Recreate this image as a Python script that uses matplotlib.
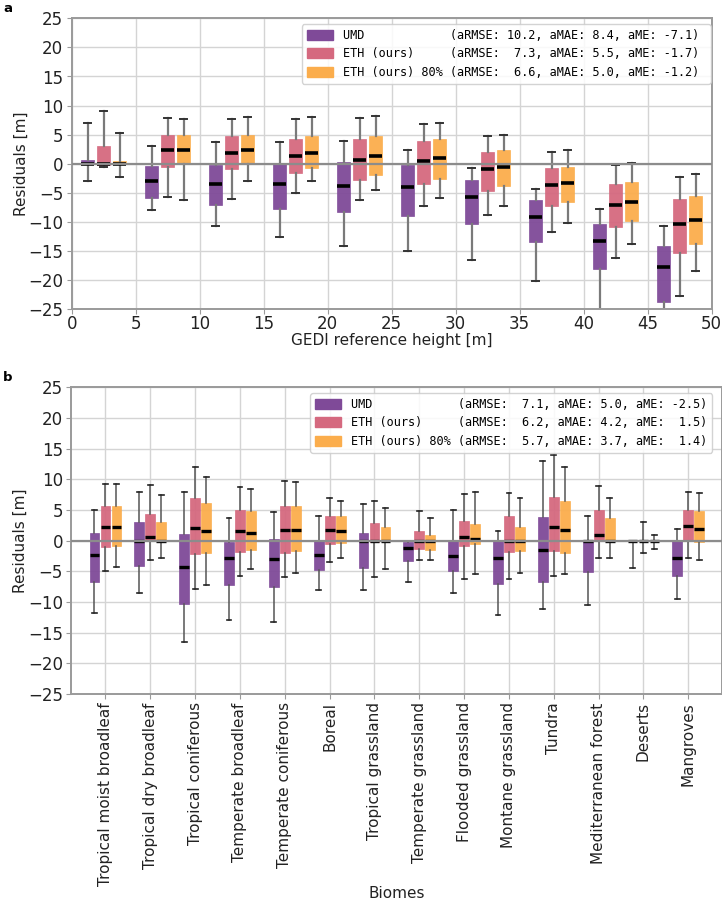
import numpy as np
import matplotlib
matplotlib.use("Agg")
import matplotlib.pyplot as plt
from matplotlib.patches import Patch

# ---------------- data ----------------
models = ["UMD", "ETH (ours)", "ETH (ours) 80%"]
colors = ["#7f4a98", "#d5697f", "#fbad4c"]

# panel a: GEDI reference height bins (bin start, width 5 m)
height_bins = [0, 5, 10, 15, 20, 25, 30, 35, 40, 45]

umd_a_whishi = [7.0, 3.0, 3.7, 3.8, 3.9, 2.4, -0.7, -4.3, -7.7, -10.7]
umd_a_q3 = [0.57, -0.4, -0.2, 0.2, 0.3, -0.2, -2.7, -6.3, -10.3, -14.1]
umd_a_med = [0.0, -2.9, -3.4, -3.4, -3.9, -4.0, -5.7, -9.1, -13.3, -17.8]
umd_a_q1 = [0.0, -5.8, -7.0, -7.8, -8.3, -9.0, -10.3, -13.5, -18.1, -23.8]
umd_a_whislo = [-3.0, -7.9, -10.7, -12.6, -14.1, -15.0, -16.6, -20.2, -26.0, -27.0]

eth_a_whishi = [9.0, 7.9, 7.7, 7.7, 7.8, 6.9, 4.7, 2.1, -0.2, -2.2]
eth_a_q3 = [3.0, 5.0, 4.7, 4.3, 4.2, 3.9, 2.1, -0.7, -3.5, -6.1]
eth_a_med = [0.0, 2.3, 1.9, 1.4, 0.7, 0.5, -0.9, -3.6, -7.0, -10.4]
eth_a_q1 = [-0.2, -0.5, -0.9, -1.6, -2.7, -3.4, -4.6, -7.3, -10.9, -15.4]
eth_a_whislo = [-0.5, -5.7, -6.1, -5.0, -6.2, -7.3, -8.8, -11.8, -16.1, -22.8]

eth80_a_whishi = [5.3, 7.7, 8.1, 8.1, 8.2, 7.0, 4.9, 2.3, 0.1, -1.7]
eth80_a_q3 = [0.4, 4.9, 5.0, 4.8, 4.7, 4.3, 2.3, -0.5, -3.2, -5.6]
eth80_a_med = [0.0, 2.4, 2.3, 1.9, 1.3, 1.0, -0.5, -3.3, -6.5, -9.6]
eth80_a_q1 = [-0.1, 0.0, 0.0, -0.7, -1.9, -2.6, -3.9, -6.5, -9.8, -13.7]
eth80_a_whislo = [-2.2, -6.3, -2.9, -3.0, -4.5, -5.8, -7.3, -10.1, -13.7, -18.5]

metrics_a_rmse = [10.2, 7.3, 6.6]
metrics_a_mae = [8.4, 5.5, 5.0]
metrics_a_me = [-7.1, -1.7, -1.2]

# panel b: biomes
biomes = ["Tropical moist broadleaf", "Tropical dry broadleaf", "Tropical coniferous",
          "Temperate broadleaf", "Temperate coniferous", "Boreal", "Tropical grassland",
          "Temperate grassland", "Flooded grassland", "Montane grassland", "Tundra",
          "Mediterranean forest", "Deserts", "Mangroves"]

umd_b_whishi = [5.05, 8.0, 8.0, 3.7, 4.7, 4.1, 6.0, 0.0, 5.05, 1.6, 13.0, 4.0, 0.0, 1.85]
umd_b_q3 = [1.25, 3.0, 1.15, -0.15, 0.3, 0.0, 1.2, -0.15, -0.1, -0.1, 3.9, 0.0, 0.0, 0.0]
umd_b_med = [-2.4, 0.0, -4.3, -2.9, -3.0, -2.4, 0.0, -1.2, -2.55, -2.8, -1.6, 0.0, 0.0, -2.8]
umd_b_q1 = [-6.7, -4.2, -10.4, -7.3, -7.5, -4.8, -4.5, -3.3, -5.0, -7.1, -6.7, -5.1, 0.0, -5.8]
umd_b_whislo = [-11.8, -8.6, -16.5, -12.9, -13.2, -8.1, -8.0, -6.8, -8.5, -12.2, -11.1, -10.5, -4.4, -9.5]

eth_b_whishi = [9.2, 9.0, 12.0, 8.8, 9.7, 7.0, 6.4, 4.9, 7.55, 7.7, 14.0, 8.9, 3.0, 8.0]
eth_b_q3 = [5.65, 4.4, 7.0, 5.0, 5.7, 4.1, 2.8, 1.6, 3.15, 4.0, 7.1, 4.95, 0.0, 5.0]
eth_b_med = [2.2, 0.65, 2.05, 1.5, 1.8, 1.75, 0.0, 0.0, 0.65, 0.0, 2.3, 1.0, 0.0, 2.35]
eth_b_q1 = [-1.0, 0.0, -2.1, -1.8, -2.0, -0.55, -0.3, -1.3, -0.9, -1.9, -1.7, 0.0, 0.0, 0.0]
eth_b_whislo = [-4.9, -3.2, -7.9, -5.8, -6.0, -3.4, -5.9, -3.2, -6.2, -6.3, -5.8, -2.9, -2.0, -2.9]

eth80_b_whishi = [9.2, 7.4, 10.3, 8.4, 9.5, 6.5, 5.4, 3.75, 8.0, 6.9, 12.0, 7.0, 1.0, 7.8]
eth80_b_q3 = [5.65, 3.0, 6.2, 4.8, 5.6, 4.0, 2.2, 1.0, 2.65, 2.2, 6.4, 3.75, 0.0, 4.85]
eth80_b_med = [2.2, 0.0, 1.6, 1.3, 1.75, 1.6, 0.0, 0.0, 0.2, 0.0, 1.75, 0.0, 0.0, 1.95]
eth80_b_q1 = [-0.8, 0.0, -2.0, -1.5, -1.7, -0.45, 0.0, -1.5, -0.55, -1.7, -2.0, 0.0, 0.0, -0.3]
eth80_b_whislo = [-4.3, -2.9, -7.2, -4.6, -5.2, -2.9, -4.7, -3.1, -5.5, -5.3, -5.5, -2.9, -1.35, -3.1]

metrics_b_rmse = [7.1, 6.2, 5.7]
metrics_b_mae = [5.0, 4.2, 3.7]
metrics_b_me = [-2.5, 1.5, 1.4]

yticks = [-25, -20, -15, -10, -5, 0, 5, 10, 15, 20, 25]
xticks_a = [0, 5, 10, 15, 20, 25, 30, 35, 40, 45, 50]

# ---------------- helpers ----------------
def make_stats(lo, q1, med, q3, hi):
    return [dict(whislo=a, q1=b, med=c, q3=d, whishi=e, fliers=[])
            for a, b, c, d, e in zip(lo, q1, med, q3, hi)]


def draw(ax, stats, positions, width, color, whis_color, whis_lw, cap_color, cap_lw, med_lw):
    ax.bxp(stats, positions=positions, widths=width, patch_artist=True,
           showfliers=False, manage_ticks=False,
           boxprops=dict(facecolor=color, edgecolor=color, linewidth=0.5, alpha=0.95),
           whiskerprops=dict(color=whis_color, linewidth=whis_lw),
           capprops=dict(color=cap_color, linewidth=cap_lw),
           medianprops=dict(color="black", linewidth=med_lw, solid_capstyle="butt"))


def legend_labels(rmse, mae, me, trail=""):
    labs = []
    for m, r, a, e in zip(models, rmse, mae, me):
        labs.append(f"{m:<14s} (aRMSE: {r:4.1f}, aMAE: {a:3.1f}, aME: {e:4.1f})" + trail)
    return labs


def style_axes(ax, pad):
    ax.set_ylim(-25, 25)
    ax.set_yticks(yticks)
    ax.grid(True, color="#d4d4d4", linewidth=1.0)
    ax.set_axisbelow(True)
    for s in ax.spines.values():
        s.set_color("#9a9a9a")
        s.set_linewidth(1.4)
    ax.tick_params(colors="#9a9a9a", labelcolor="#222222", labelsize=12, length=3.5, pad=2.5)
    ax.tick_params(axis="x", pad=pad)
    ax.axhline(0, color="#8c8c8c", linewidth=1.6, zorder=5)


plt.rcParams["font.family"] = ["DejaVu Sans"]
fig = plt.figure(figsize=(7.22, 9.0), dpi=100)
W, H = 722.0, 900.0

# ---------------- panel a ----------------
ax1 = fig.add_axes([71.7 / W, 1 - 309.3 / H, (711.7 - 71.7) / W, (309.3 - 18.3) / H])
set_a = [
    (umd_a_whislo, umd_a_q1, umd_a_med, umd_a_q3, umd_a_whishi),
    (eth_a_whislo, eth_a_q1, eth_a_med, eth_a_q3, eth_a_whishi),
    (eth80_a_whislo, eth80_a_q1, eth80_a_med, eth80_a_q3, eth80_a_whishi),
]
offsets_a = [1.25, 2.5, 3.75]
for k, (vals, col) in enumerate(zip(set_a, colors)):
    pos = [b + offsets_a[k] for b in height_bins]
    draw(ax1, make_stats(*vals), pos, 1.05, col, "#7a7a7a", 1.6, "#333333", 1.4, 2.6)
style_axes(ax1, 0.8)
ax1.set_xlim(0, 50)
ax1.set_xticks(xticks_a)
ax1.set_xlabel("GEDI reference height [m]", fontsize=11, color="#222222")
ax1.xaxis.set_label_coords(0.5, (309.3 - 332.5) / 291.0)
ax1.set_ylabel("Residuals [m]", fontsize=11, color="#222222", labelpad=0)
handles = [Patch(facecolor=c, edgecolor=c) for c in colors]
ax1.legend(handles, legend_labels(metrics_a_rmse, metrics_a_mae, metrics_a_me, trail=" "),
           loc="upper right", bbox_to_anchor=(710.7 / W, 1 - 24.3 / H),
           bbox_transform=fig.transFigure, borderaxespad=0,
           prop=dict(family="DejaVu Sans Mono", size=8.6), framealpha=0.85,
           edgecolor="#cccccc", handlelength=2.2, handleheight=0.9, labelspacing=0.45)
fig.text(3 / W, 1 - 9 / H, "a", fontsize=9.5, fontweight="bold", va="center", ha="left")

# ---------------- panel b ----------------
ax2 = fig.add_axes([71.4 / W, 1 - 694 / H, (721.5 - 71.4) / W, (694 - 387.3) / H])
set_b = [
    (umd_b_whislo, umd_b_q1, umd_b_med, umd_b_q3, umd_b_whishi),
    (eth_b_whislo, eth_b_q1, eth_b_med, eth_b_q3, eth_b_whishi),
    (eth80_b_whislo, eth80_b_q1, eth80_b_med, eth80_b_q3, eth80_b_whishi),
]
xb = np.arange(len(biomes))
offsets_b = [-0.245, 0.0, 0.245]
for k, (vals, col) in enumerate(zip(set_b, colors)):
    draw(ax2, make_stats(*vals), xb + offsets_b[k], 0.22, col, "#555555", 1.1, "#222222", 1.2, 2.4)
style_axes(ax2, 2.5)
ax2.set_xlim(-0.76, len(biomes) - 1 + 0.74)
ax2.set_xticks(xb)
ax2.set_xticklabels(biomes, rotation=90, fontsize=11)
ax2.set_xlabel("Biomes", fontsize=11, color="#222222")
ax2.xaxis.set_label_coords(0.5, (694 - 885.5) / 306.7)
ax2.set_ylabel("Residuals [m]", fontsize=11, color="#222222", labelpad=0)
ax2.legend(handles, legend_labels(metrics_b_rmse, metrics_b_mae, metrics_b_me),
           loc="upper right", bbox_to_anchor=(712 / W, 1 - 393.3 / H),
           bbox_transform=fig.transFigure, borderaxespad=0,
           prop=dict(family="DejaVu Sans Mono", size=8.6), framealpha=0.85,
           edgecolor="#cccccc", handlelength=2.2, handleheight=0.9, labelspacing=0.45)
fig.text(3 / W, 1 - 378 / H, "b", fontsize=9.5, fontweight="bold", va="center", ha="left")

fig.savefig("out.png", dpi=100)
